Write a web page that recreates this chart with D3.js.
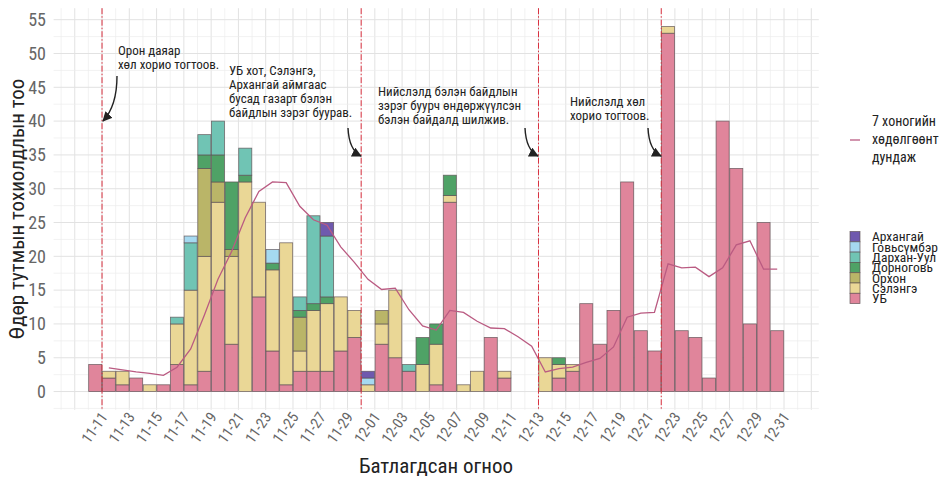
<!DOCTYPE html>
<html>
<head>
<meta charset="utf-8">
<script src="https://cdn.jsdelivr.net/npm/d3@7"></script>
<style>
  body { margin: 0; background: #fff; }
  svg { display: block; font-family: "Roboto Condensed", "Liberation Sans Narrow", "DejaVu Sans Condensed", sans-serif; }
</style>
</head>
<body>
<svg class="chart" width="952" height="480"></svg>
<script>
/*global d3*/
var days = ["11-11","11-12","11-13","11-14","11-15","11-16","11-17","11-18","11-19","11-20",
            "11-21","11-22","11-23","11-24","11-25","11-26","11-27","11-28","11-29","11-30",
            "12-01","12-02","12-03","12-04","12-05","12-06","12-07","12-08","12-09","12-10",
            "12-11","12-12","12-13","12-14","12-15","12-16","12-17","12-18","12-19","12-20",
            "12-21","12-22","12-23","12-24","12-25","12-26","12-27","12-28","12-29","12-30","12-31"];

// stack order, bottom to top
var regions = ["УБ", "Сэлэнгэ", "Орхон", "Дорноговь", "Дархан-Уул", "Говьсүмбэр", "Архангай"];
var ub        = [4,2,1,2,0,1,4,1,3,15, 7,0,14,6,1,3,3,3,6,8, 0,7,5,3,0,1,28,0,0,8, 2,0,0,0,2,3,13,7,12,31, 9,6,53,9,8,2,40,33,10,25,9];
var selenge   = [0,1,2,0,1,0,6,14,17,13, 13,31,14,12,21,3,9,10,8,4, 1,3,10,0,4,6,1,1,3,0, 1,0,0,5,2,1,0,0,0,0, 0,0,1,0,0,0,0,0,0,0,0];
var orkhon    = [0,0,0,0,0,0,0,0,13,3, 1,0,0,0,0,5,0,0,0,0, 0,2,0,0,0,0,0,0,0,0, 0,0,0,0,0,0,0,0,0,0, 0,0,0,0,0,0,0,0,0,0,0];
var dornogovi = [0,0,0,0,0,0,0,0,2,4, 10,1,0,1,0,1,1,1,0,0, 0,0,0,0,4,3,3,0,0,0, 0,0,0,0,1,0,0,0,0,0, 0,0,0,0,0,0,0,0,0,0,0];
var darkhan   = [0,0,0,0,0,0,1,7,3,5, 0,4,0,0,0,2,13,9,0,0, 0,0,0,1,0,0,0,0,0,0, 0,0,0,0,0,0,0,0,0,0, 0,0,0,0,0,0,0,0,0,0,0];
var govisumber= [0,0,0,0,0,0,0,1,0,0, 0,0,0,2,0,0,0,0,0,0, 1,0,0,0,0,0,0,0,0,0, 0,0,0,0,0,0,0,0,0,0, 0,0,0,0,0,0,0,0,0,0,0];
var arkhangai = [0,0,0,0,0,0,0,0,0,0, 0,0,0,0,0,0,0,2,0,0, 1,0,0,0,0,0,0,0,0,0, 0,0,0,0,0,0,0,0,0,0, 0,0,0,0,0,0,0,0,0,0,0];
var colors = ["#E0859B", "#EAD796", "#BAB568", "#4FA266", "#70C4B4", "#A5D9F0", "#6F59AE"];

// 7 day moving average (from 11-12 on)
var maDays = days.slice(1);
var maValues = [3.5,3.2,2.9,2.7,2.4,3.6,6.3,11.3,16.6, 20.7,25.7,29.6,31.0,30.9,27.4,25.4,24.6,21.4,19.1,
                16.6,15.1,15.3,12.1,9.7,9.1,12.0,11.7,10.4,9.4, 9.3,8.1,6.7,2.9,3.4,3.6,4.3,4.9,6.6,11.0,
                11.6,11.7,18.9,18.3,18.4,17.0,18.3,21.7,22.3,18.1,18.1];

var yTicks = [0,5,10,15,20,25,30,35,40,45,50,55];
var tickDays = days.filter(function (d, i) { return i % 2 === 0; });

var events = [
  {day: "11-11", off: 0,    text: ["Орон даяар", "хөл хорио тогтоов."]},
  {day: "12-01", off: -1,   text: ["УБ хот, Сэлэнгэ,", "Архангай аймгаас", "бусад газарт бэлэн", "байдлын зэрэг буурав."]},
  {day: "12-13", off: 0,    text: ["Нийслэлд бэлэн байдлын", "зэрэг буурч өндөржүүлсэн", "бэлэн байдалд шилжив."]},
  {day: "12-23", off: -1,   text: ["Нийслэлд хөл", "хорио тогтоов."]}
];

var svg = d3.select(".chart");
var dayIndex = function (d) { return days.indexOf(d); };

var x = d3.scaleLinear().domain([-3.55, 52.55]).range([53.6, 818.8]);
var y = d3.scaleLinear().domain([-2.7, 56.7]).range([409.8, 8.2]);

// grid
var grid = svg.append("g");
d3.range(-3, 53).forEach(function (t) {
  grid.append("line")
      .attr("x1", x(t)).attr("x2", x(t)).attr("y1", y.range()[0]).attr("y2", y.range()[1])
      .attr("stroke", t % 2 === 0 ? "#e2e2e2" : "#ececec")
      .attr("stroke-width", t % 2 === 0 ? 1 : 0.7);
});
d3.range(-2.5, 56, 2.5).forEach(function (v) {
  var major = v % 5 === 0;
  grid.append("line")
      .attr("x1", x.range()[0]).attr("x2", x.range()[1]).attr("y1", y(v)).attr("y2", y(v))
      .attr("stroke", major ? "#e2e2e2" : "#ececec")
      .attr("stroke-width", major ? 1 : 0.7);
});

// stacked bars
var rows = days.map(function (d, i) {
  return {day: d, "УБ": ub[i], "Сэлэнгэ": selenge[i], "Орхон": orkhon[i], "Дорноговь": dornogovi[i],
          "Дархан-Уул": darkhan[i], "Говьсүмбэр": govisumber[i], "Архангай": arkhangai[i]};
});
var stack = d3.stack().keys(regions);
var z = d3.scaleOrdinal().domain(regions).range(colors);

svg.append("g").selectAll("g")
  .data(stack(rows))
  .enter().append("g")
    .attr("fill", function (d) { return z(d.key); })
  .selectAll("rect")
  .data(function (d) { return d.filter(function (s) { return s[1] > s[0]; }); })
  .enter().append("rect")
    .attr("x", function (d) { return x(dayIndex(d.data.day) - 1) + 0.3; })
    .attr("width", x(1) - x(0) - 0.6)
    .attr("y", function (d) { return y(d[1]); })
    .attr("height", function (d) { return y(d[0]) - y(d[1]); })
    .attr("stroke", "#5b4f52")
    .attr("stroke-opacity", 0.8)
    .attr("stroke-width", 0.8);

// moving average
var line = d3.line()
    .x(function (d, i) { return x(dayIndex(maDays[i]) - 0.5); })
    .y(function (d) { return y(d); });
svg.append("path")
    .datum(maValues)
    .attr("d", line)
    .attr("fill", "none")
    .attr("stroke", "#BA5B82")
    .attr("stroke-width", 1.3);

// event lines + notes
var ev = svg.append("g");
events.forEach(function (e) {
  var xe = x(dayIndex(e.day) + e.off);
  ev.append("line")
      .attr("x1", xe).attr("x2", xe).attr("y1", y.range()[1]).attr("y2", y.range()[0])
      .attr("stroke", "#D9303F").attr("stroke-width", 1)
      .attr("stroke-dasharray", "6,2,1.5,2");
});

svg.append("defs").append("marker")
    .attr("id", "head")
    .attr("viewBox", "0 0 10 10")
    .attr("refX", 9).attr("refY", 5)
    .attr("markerWidth", 7).attr("markerHeight", 7)
    .attr("orient", "auto")
  .append("path")
    .attr("d", "M0,0L10,5L0,10z")
    .attr("fill", "#222");

var notes = [
  {tx: 118, ty: 50, from: [117, 76], ctrl: [117, 106], to: [103, 121]},
  {tx: 229, ty: 70, from: [348, 128], ctrl: [349, 150], to: [361, 156]},
  {tx: 378, ty: 91, from: [525, 128], ctrl: [526, 150], to: [538, 156]},
  {tx: 570, ty: 101, from: [648, 128], ctrl: [649, 150], to: [661, 156]}
];
notes.forEach(function (n, k) {
  var t = ev.append("text")
      .attr("x", n.tx).attr("y", n.ty)
      .attr("font-size", 13).attr("fill", "#222");
  events[k].text.forEach(function (s, j) {
    t.append("tspan").attr("x", n.tx).attr("dy", j === 0 ? "0.35em" : 14).text(s);
  });
  ev.append("path")
      .attr("d", "M" + n.from + "Q" + n.ctrl + " " + n.to)
      .attr("fill", "none").attr("stroke", "#222").attr("stroke-width", 1.4)
      .attr("marker-end", "url(#head)");
});

// axes labels
svg.append("g").selectAll("text")
  .data(yTicks).enter().append("text")
    .attr("x", 46).attr("y", function (d) { return y(d); })
    .attr("dy", "0.35em").attr("text-anchor", "end")
    .attr("font-size", 18).attr("fill", "#666")
    .text(function (d) { return d; });

svg.append("g").selectAll("text")
  .data(tickDays).enter().append("text")
    .attr("transform", function (d) { return "translate(" + (x(dayIndex(d)) + 2) + ",414) rotate(-55)"; })
    .attr("dy", "0.35em").attr("text-anchor", "end")
    .attr("font-size", 15).attr("fill", "#666")
    .text(function (d) { return d; });

svg.append("text")
    .attr("transform", "translate(17,209) rotate(-90)")
    .attr("dy", "0.35em").attr("text-anchor", "middle")
    .attr("font-size", 21).attr("fill", "#222")
    .text("Өдөр тутмын тохиолдлын тоо");

svg.append("text")
    .attr("x", 436).attr("y", 466)
    .attr("dy", "0.35em").attr("text-anchor", "middle")
    .attr("font-size", 21).attr("fill", "#222")
    .text("Батлагдсан огноо");

// legend
var lg = svg.append("g");
lg.append("line").attr("x1", 850).attr("x2", 860).attr("y1", 140).attr("y2", 140)
    .attr("stroke", "#BA5B82").attr("stroke-width", 1.3);
var lt = lg.append("text").attr("x", 872).attr("y", 121).attr("font-size", 14).attr("fill", "#222");
["7 хоногийн", "хөдөлгөөнт", "дундаж"].forEach(function (s, j) {
  lt.append("tspan").attr("x", 872).attr("dy", j === 0 ? "0.35em" : 18).text(s);
});

var keys = regions.slice().reverse();
var item = lg.selectAll(".key")
  .data(keys).enter().append("g")
    .attr("transform", function (d, i) { return "translate(850," + (231.5 + i * 10.3) + ")"; });
item.append("rect")
    .attr("width", 10).attr("height", 10.3)
    .attr("fill", z).attr("stroke", "#5b4f52").attr("stroke-opacity", 0.8).attr("stroke-width", 0.8);
item.append("text")
    .attr("x", 22).attr("y", 5.2).attr("dy", "0.35em")
    .attr("font-size", 13.5).attr("fill", "#222")
    .text(function (d) { return d; });
</script>
</body>
</html>
